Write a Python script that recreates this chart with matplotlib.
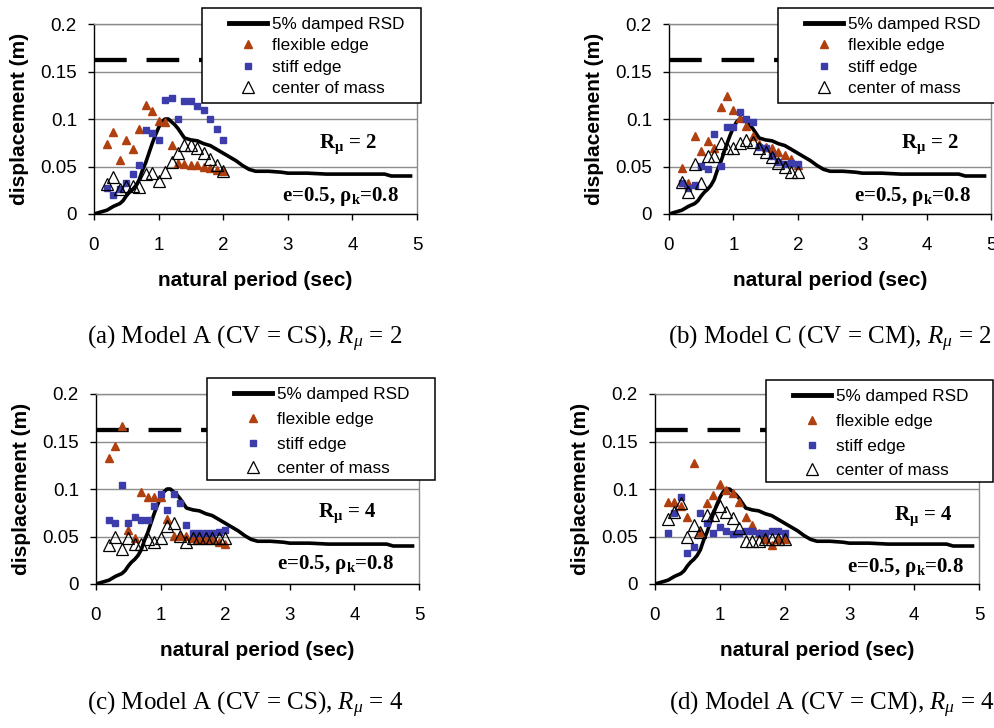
import matplotlib
matplotlib.use('Agg')
import matplotlib.pyplot as plt
from matplotlib.lines import Line2D
from matplotlib.patches import Rectangle

plt.rcParams['font.family'] = 'Liberation Sans'
plt.rcParams['mathtext.fontset'] = 'custom'
plt.rcParams['mathtext.rm'] = 'Liberation Serif'
plt.rcParams['mathtext.it'] = 'Liberation Serif:italic'
plt.rcParams['mathtext.bf'] = 'Liberation Serif:bold'

# 5% damped response spectrum (same in every panel)
rsd_T = [0, 0.1, 0.2, 0.3, 0.4, 0.45, 0.5, 0.55, 0.6, 0.65, 0.7, 0.75, 0.8, 0.85,
         0.9, 0.95, 1.0, 1.05, 1.1, 1.15, 1.2, 1.25, 1.3, 1.35, 1.4, 1.5, 1.6, 1.7,
         1.8, 1.9, 2.0, 2.1, 2.2, 2.3, 2.4, 2.5, 2.7, 2.9, 3.0, 3.3, 3.6, 4.0, 4.5,
         4.6, 4.9]
rsd_D = [0.000, 0.002, 0.004, 0.008, 0.011, 0.014, 0.019, 0.023, 0.026, 0.030,
         0.036, 0.046, 0.054, 0.064, 0.074, 0.083, 0.091, 0.097, 0.100, 0.100,
         0.097, 0.094, 0.090, 0.085, 0.080, 0.078, 0.077, 0.074, 0.072, 0.068,
         0.064, 0.060, 0.056, 0.051, 0.047, 0.045, 0.045, 0.044, 0.043, 0.043,
         0.042, 0.042, 0.042, 0.040, 0.040]
disp_limit = 0.162

periods = [0.2, 0.3, 0.4, 0.5, 0.6, 0.7, 0.8, 0.9, 1.0, 1.1, 1.2, 1.3, 1.4, 1.5,
           1.6, 1.7, 1.8, 1.9, 2.0]

# (a) Model A, CV = CS, R = 2
flex_a = [0.074, 0.086, 0.057, 0.078, 0.068, 0.090, 0.115, 0.108, 0.098, 0.097,
          0.073, 0.054, 0.053, 0.052, 0.052, 0.050, 0.048, 0.046, 0.045]
stiff_a = [0.027, 0.020, 0.026, 0.033, 0.042, 0.052, 0.088, 0.085, 0.078, 0.120,
           0.122, 0.100, 0.119, 0.119, 0.114, 0.109, 0.100, 0.090, 0.078]
cm_a = [0.032, 0.039, 0.026, 0.029, 0.030, 0.028, 0.042, 0.043, 0.035, 0.044,
        0.055, 0.064, 0.073, 0.073, 0.069, 0.064, 0.058, 0.052, 0.045]

# (b) Model C, CV = CM, R = 2
flex_b = [0.048, 0.033, 0.082, 0.066, 0.077, 0.069, 0.113, 0.124, 0.110, 0.101,
          0.093, 0.082, 0.074, 0.071, 0.069, 0.065, 0.062, 0.058, 0.052]
stiff_b = [0.033, 0.027, 0.031, 0.051, 0.047, 0.084, 0.051, 0.092, 0.092, 0.107,
           0.100, 0.097, 0.071, 0.069, 0.061, 0.055, 0.053, 0.054, 0.053]
cm_b = [0.034, 0.023, 0.053, 0.033, 0.061, 0.061, 0.075, 0.070, 0.070, 0.075,
        0.078, 0.076, 0.070, 0.065, 0.060, 0.054, 0.050, 0.044, 0.044]

# (c) Model A, CV = CS, R = 4
flex_c = [0.133, 0.145, 0.166, 0.057, 0.048, 0.097, 0.092, 0.092, 0.092, 0.068,
          0.051, 0.051, 0.051, 0.048, 0.047, 0.047, 0.047, 0.044, 0.042]
stiff_c = [0.067, 0.064, 0.104, 0.064, 0.071, 0.067, 0.067, 0.082, 0.095, 0.078,
           0.095, 0.085, 0.062, 0.054, 0.054, 0.054, 0.054, 0.055, 0.057]
cm_c = [0.041, 0.050, 0.037, 0.048, 0.042, 0.042, 0.047, 0.044, 0.048, 0.061,
        0.064, 0.051, 0.044, 0.048, 0.048, 0.048, 0.048, 0.048, 0.048]

# (d) Model A, CV = CM, R = 4
flex_d = [0.086, 0.086, 0.082, 0.071, 0.127, 0.055, 0.085, 0.094, 0.105, 0.099,
          0.096, 0.086, 0.071, 0.062, 0.054, 0.047, 0.041, 0.047, 0.047]
stiff_d = [0.054, 0.075, 0.092, 0.033, 0.039, 0.075, 0.064, 0.054, 0.060, 0.056,
           0.053, 0.054, 0.056, 0.056, 0.054, 0.054, 0.056, 0.056, 0.054]
cm_d = [0.068, 0.076, 0.085, 0.049, 0.062, 0.055, 0.073, 0.073, 0.082, 0.076,
        0.070, 0.059, 0.045, 0.045, 0.045, 0.047, 0.047, 0.047, 0.047]

series_labels = ['5% damped RSD', 'flexible edge', 'stiff edge', 'center of mass']
y_ticks = [0, 0.05, 0.1, 0.15, 0.2]
y_tick_labels = ['0', '0.05', '0.1', '0.15', '0.2']
x_ticks = [0, 1, 2, 3, 4, 5]

captions = [r'(a) Model A (CV = CS), $R_\mu$ = 2',
            r'(b) Model C (CV = CM), $R_\mu$ = 2',
            r'(c) Model A (CV = CS), $R_\mu$ = 4',
            r'(d) Model A (CV = CM), $R_\mu$ = 4']
r_values = [2, 2, 4, 4]

RED = '#B0400F'
BLUE = '#3C3CAA'
GRAY = '#8C8C8C'

W, H = 995, 728
fig = plt.figure(figsize=(W / 100, H / 100), dpi=100)

# pixel boxes: axes (left, top, right, bottom), legend box, text spots, caption
panels = [
    dict(ax=(94, 24, 417, 214), leg=(202, 8, 421, 103), ls=0.37,
         flex=flex_a, stiff=stiff_a, cm=cm_a, r_xy=(3.93, 0.0695), e_xy=(3.82, 0.0137),
         cap=(245, 344)),
    dict(ax=(669, 24, 991, 214), leg=(778, 8, 1000, 103), ls=0.37,
         flex=flex_b, stiff=stiff_b, cm=cm_b, r_xy=(4.05, 0.0695), e_xy=(3.78, 0.0137),
         cap=(830, 344)),
    dict(ax=(96, 394, 419, 584), leg=(207, 378, 435, 480), ls=0.57,
         flex=flex_c, stiff=stiff_c, cm=cm_c, r_xy=(3.89, 0.0708), e_xy=(3.70, 0.0155),
         cap=(245, 710)),
    dict(ax=(655, 394, 979, 584), leg=(766, 380, 993, 482), ls=0.57,
         flex=flex_d, stiff=stiff_d, cm=cm_d, r_xy=(4.14, 0.067), e_xy=(3.87, 0.013),
         cap=(832, 710)),
]

for i, p in enumerate(panels):
    l, t, r, b = p['ax']
    ax = fig.add_axes([l / W, 1 - b / H, (r - l) / W, (b - t) / H])

    ax.axhline(disp_limit, color='black', lw=3.1, dashes=(7.6, 4.6), zorder=2)
    ax.plot(rsd_T, rsd_D, color='black', lw=2.6, zorder=3, solid_joinstyle='round')
    ax.plot(periods, p['flex'], ls='none', marker='^', ms=6, color=RED, mec=RED, zorder=4)
    ax.plot(periods, p['stiff'], ls='none', marker='s', ms=4.3, color=BLUE, mec=BLUE, zorder=5)
    ax.plot(periods, p['cm'], ls='none', marker='^', ms=8, mfc='none', mec='black',
            mew=0.9, zorder=6)

    ax.set_xlim(0, 5)
    ax.set_ylim(0, 0.2)
    ax.set_xticks(x_ticks)
    ax.set_yticks(y_ticks)
    ax.set_yticklabels(y_tick_labels)
    ax.yaxis.grid(True, color=GRAY, lw=1)
    ax.set_axisbelow(True)
    for side in ['top', 'right']:
        ax.spines[side].set_color(GRAY)
        ax.spines[side].set_linewidth(1)
    for side in ['left', 'bottom']:
        ax.spines[side].set_linewidth(1)
    ax.tick_params(direction='out', length=4.3, width=1, labelsize=13.5)
    ax.tick_params(axis='x', pad=12)
    ax.tick_params(axis='y', pad=8)

    ax.set_xlabel('natural period (sec)', fontsize=15, fontweight='bold')
    ax.set_ylabel('displacement (m)', fontsize=15, fontweight='bold')
    ax.xaxis.set_label_coords(0.5, -0.30)
    ax.yaxis.set_label_coords(-0.202, 0.5)

    ax.text(*p['r_xy'], r'$\mathbf{R_\mu}$ = %d' % r_values[i], ha='center', va='baseline',
            fontsize=15, fontweight='bold', fontfamily='Liberation Serif', zorder=7)
    ax.text(*p['e_xy'], r'e=0.5, $\mathbf{\rho_k}$=0.8', ha='center', va='baseline',
            fontsize=15, fontweight='bold', fontfamily='Liberation Serif', zorder=7)

    # legend box
    bl, bt, br, bb = p['leg']
    fig.add_artist(Rectangle((bl / W, 1 - bb / H), (br - bl) / W, (bb - bt) / H,
                             transform=fig.transFigure, fc='white', ec='black', lw=1.1,
                             zorder=4))
    handles = [Line2D([], [], color='black', lw=3.5),
               Line2D([], [], ls='none', marker='^', ms=6, color=RED),
               Line2D([], [], ls='none', marker='s', ms=4.3, color=BLUE),
               Line2D([], [], ls='none', marker='^', ms=8, mfc='none', mec='black', mew=0.9)]
    fig.legend(handles, series_labels, loc='upper left',
               bbox_to_anchor=((bl + 22) / W, 1 - (bt + 4) / H), frameon=False,
               fontsize=12.3, handlelength=2.2, handletextpad=0.3, labelspacing=p['ls'],
               borderpad=0.3, borderaxespad=0)

    fig.text(p['cap'][0] / W, 1 - p['cap'][1] / H, captions[i], ha='center', va='baseline',
             fontsize=18, fontfamily='Liberation Serif')

fig.savefig('out.png', dpi=100)
